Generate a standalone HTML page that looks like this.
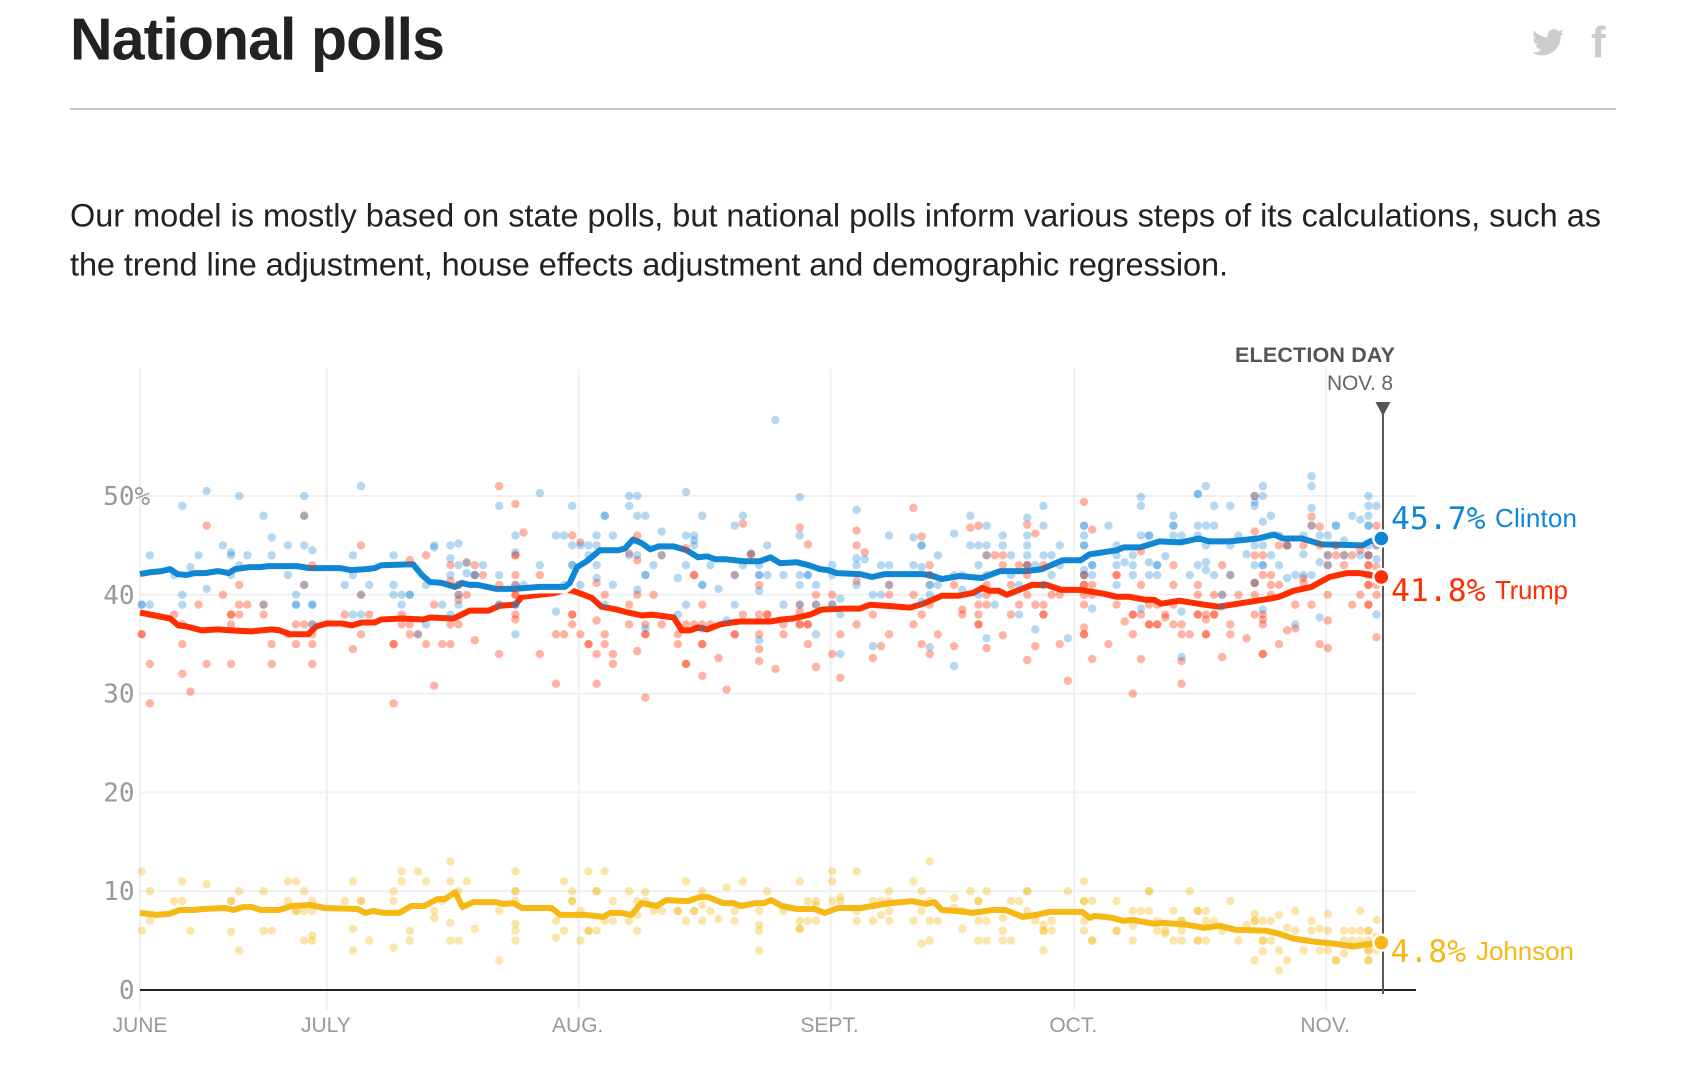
<!DOCTYPE html>
<html lang="en">
<head>
<meta charset="utf-8">
<title>National polls</title>
<style>
html,body{margin:0;padding:0;background:#fff;}
svg{display:block;}
text{font-family:"Liberation Sans",sans-serif;}
.mono{font-family:"DejaVu Sans Mono","Liberation Mono",monospace;}
</style>
</head>
<body>
<svg id="page" xmlns="http://www.w3.org/2000/svg" width="1694" height="1080" viewBox="0 0 1694 1080">
  <text x="70" y="59.5" font-size="59" font-weight="700" fill="#222" textLength="375" lengthAdjust="spacing">National polls</text>
  <path fill="#ccc" transform="translate(1532 26.3) scale(1.333)" d="M23.95 4.57a10 10 0 0 1-2.82.77 4.96 4.96 0 0 0 2.16-2.72c-.95.55-2 .95-3.12 1.18a4.92 4.92 0 0 0-8.38 4.48C7.69 8.1 4.07 6.13 1.64 3.16a4.82 4.82 0 0 0-.67 2.48c0 1.71.87 3.21 2.19 4.1a4.9 4.9 0 0 1-2.23-.62v.06a4.92 4.92 0 0 0 3.95 4.83 4.9 4.9 0 0 1-2.21.08 4.93 4.93 0 0 0 4.6 3.42A9.87 9.87 0 0 1 0 19.54a14 14 0 0 0 7.56 2.21c9.05 0 14-7.5 14-14 0-.21 0-.42-.02-.63a9.94 9.94 0 0 0 2.41-2.55z"/>
  <text x="1591" y="57" font-size="44" font-weight="700" fill="#ccc">f</text>
  <rect x="70" y="108" width="1546" height="2" fill="#ccc"/>
  <text x="70" y="226.5" font-size="32.5" fill="#222" textLength="1531" lengthAdjust="spacing">Our model is mostly based on state polls, but national polls inform various steps of its calculations, such as</text>
  <text x="70" y="275.5" font-size="32.5" fill="#222" textLength="1158" lengthAdjust="spacing">the trend line adjustment, house effects adjustment and demographic regression.</text>
  <g id="chart"></g>
  <text x="1235" y="362" font-size="21.5" font-weight="700" fill="#555" textLength="160" lengthAdjust="spacing">ELECTION DAY</text>
  <text x="1327" y="390" font-size="21" fill="#666" textLength="66" lengthAdjust="spacing">NOV. 8</text>
</svg>
<script>
const yTicks = [0, 10, 20, 30, 40, 50];
const monthNames = ["JUNE", "JULY", "AUG.", "SEPT.", "OCT.", "NOV."];
const monthDays = [0, 23, 54, 85, 115, 146];
const electionDay = 153;
const seriesNames = ["Clinton", "Trump", "Johnson"];
const seriesFinals = [45.7, 41.8, 4.8];

const clintonTrendDays = [0,1.4,2.7,3.7,4.6,5.7,6.8,8,9.6,10.9,11.7,13.5,14.8,15.8,19.3,20.9,24.6,25.9,27.9,28.9,29.7,33.6,34.7,35.7,37.1,38.8,39.6,40.6,41.6,43.9,46,49.2,52.3,52.9,53.8,55,56.6,58.9,59.7,60.7,61.8,62.8,63.8,65.7,67.3,68.7,69.8,70.8,72,74.3,76.3,77.6,78.8,80.8,82.3,83.7,84.7,85.8,88.6,90.1,91.7,96.2,97.2,98.7,100.9,103.6,105.9,109.1,111,113.6,115.8,116.9,120.2,121.1,123.1,125.5,128.1,130.3,131.6,134.1,137.6,139.6,140.7,143,145.5,150.5,151.4,152.8];
const clintonTrendValues = [42.1,42.3,42.4,42.6,42.1,42,42.2,42.2,42.4,42.2,42.6,42.8,42.8,42.9,42.9,42.7,42.7,42.5,42.6,42.7,43,43.1,42,41.3,41.2,40.8,41.2,41,41,40.6,40.6,40.8,40.8,41.2,42.8,43.4,44.5,44.5,44.7,45.6,45.2,44.6,44.9,44.9,44.5,43.8,43.9,43.6,43.6,43.4,43.4,43.8,43.2,43.3,43,42.6,42.5,42.2,42.1,41.8,42.1,42.1,42,41.6,41.9,41.7,42.4,42.4,42.6,43.5,43.5,44.1,44.5,44.8,44.8,45.4,45.3,45.7,45.4,45.4,45.7,46.1,45.7,45.7,45.1,45,45.4,45.7];

const trumpTrendDays = [0,3.7,4.7,5.7,7.6,9.6,11.1,13.7,16.2,17.2,18.5,20.7,21.7,23,24.8,26.1,27.3,28.9,29.7,32.2,34.9,35.7,38.6,40.6,42.9,44.3,46.2,47,50.9,52.3,53.3,55.6,56.8,58.7,60.1,61.8,63,65.7,66.7,67.7,68.7,69.8,71.4,72.8,73.9,77.6,79,80.4,82.5,83.9,86.6,88.6,89.9,94.8,96.4,98.7,100.7,102.6,103.7,104.6,105.7,106.7,109.8,111.6,113.4,115.8,118.7,120.2,121.8,123.7,124.8,125.7,127.9,131,132.8,136.7,139,140.2,142,144.2,146.4,148.6,150.1,151.4,152.8];
const trumpTrendValues = [38.2,37.6,36.9,36.8,36.4,36.5,36.4,36.3,36.5,36.4,36,36,36.8,37.1,37.1,36.9,37.2,37.2,37.5,37.6,37.5,37.7,37.6,38.4,38.4,38.9,39,39.8,40.15,40.5,40.4,39.7,38.8,38.5,38.2,37.9,38,37.7,36.4,36.4,36.7,36.5,37,37.2,37.3,37.3,37.5,37.6,38,38.5,38.6,38.6,39,38.7,39.1,39.9,39.9,40.2,40.7,40.4,40.4,40,41,41,40.5,40.5,40.1,39.8,39.8,39.5,39.5,39.1,39.4,39,38.8,39.3,39.6,39.8,40.4,40.8,41.8,42.2,42.2,42,41.8];

const johnsonTrendDays = [0,2,3.6,4.9,6.7,7.7,10.5,11.5,12.7,13.7,14.9,17.1,18.7,20.9,22.8,26.8,27.7,28.7,30,31.9,33.4,35,36.6,37.5,38.8,39.7,41,43.8,44.7,46,47,50.7,51.7,53.2,54.8,57,57.9,59.2,60.5,61.7,63.6,64.8,67.4,68.9,69.9,71.8,73,74,75.8,76.8,77.7,79,80.9,83,84.3,85.9,88.7,92.4,95,96.8,97.8,98.7,100.6,102.5,105,106.5,108.7,110.3,111.9,116,116.9,117.5,119.7,121,122.2,124.8,125.7,128.9,131,132.9,134.8,138.6,140.2,142,144.5,147,149.3,150.8,152.8];
const johnsonTrendValues = [7.8,7.6,7.7,8.1,8.1,8.2,8.3,8.1,8.4,8.4,8.1,8.1,8.5,8.6,8.3,8.2,7.8,8,7.8,7.8,8.5,8.5,9.2,9.2,9.9,8.4,8.9,8.9,8.7,8.8,8.3,8.3,7.6,7.6,7.6,7.4,7.8,7.8,7.6,8.8,8.5,9.1,9,9.4,9.4,8.8,8.8,8.5,8.8,8.8,9.1,8.5,8.2,8.2,7.8,8.3,8.3,8.8,9,8.7,8.9,8.1,8,7.8,8.1,8.1,7.4,7.6,7.9,7.9,7.3,7.5,7.3,7,7.1,6.7,6.8,6.6,6.3,6.5,6.1,6,5.7,5.2,4.9,4.7,4.4,4.6,4.8];

const clintonPollDays = [0,0,1,1,4,5,5,5,6,7,8,8,10,11,11,11,12,12,13,15,15,16,16,18,18,19,19,19,20,20,20,20,21,21,21,21,25,26,26,26,27,27,27,28,31,31,31,32,32,33,33,34,35,35,36,36,37,38,38,38,38,39,39,39,39,39,40,40,41,41,42,44,44,44,46,46,46,46,46,46,47,49,49,51,51,52,52,53,53,53,53,54,54,55,55,56,56,56,56,
57,57,57,58,58,60,60,60,61,61,61,61,62,62,62,62,63,64,64,66,66,67,67,67,67,68,68,68,69,69,69,69,70,71,72,73,73,73,74,74,75,76,76,76,76,76,77,77,78,79,79,81,81,81,81,81,82,82,83,83,83,85,85,85,86,86,86,88,88,88,88,89,90,90,91,91,92,92,92,95,95,96,96,96,96,97,97,97,97,97,98,98,100,100,100,101,101,102,102,103,103,103,104,104,104,104,104,105,106,106,107,107,108,108,109,109,109,109,109,110,110,111,111,111,111,112,112,113,113,114,
116,116,116,116,116,116,116,117,117,117,117,119,120,120,120,120,121,122,122,122,123,123,123,123,124,124,124,124,125,125,125,126,127,127,127,127,128,128,128,129,130,130,130,130,130,131,131,131,131,131,132,132,132,133,133,134,134,134,135,136,137,137,137,137,137,137,138,138,138,138,138,138,138,139,139,140,140,141,141,142,142,143,143,143,144,144,144,144,144,145,145,145,146,146,146,147,147,147,148,148,149,150,150,151,151,151,151,151,151,151,152,152,152,152];
const clintonPollValues = [39,39,39,44,42,49,40,39,42.8,44,50.5,40.6,45,44.3,44,42,43,50,44,48,39,45.8,44,45,42,40,39,39,50,48,45,41,44.5,39,39,37,41,44,42,38,51,40,38,41,44,41,40,40,39,40,40,36,41,37,45,44.8,39,45,43.7,42,38,45.2,43,41,40,39,43.2,42.2,42,42,43,49,42,39,46,44.3,41,39,39,36,41,50.3,43,46,38.3,46,41,49,45,43,43,45,41,45,44,46,45,43,41.7,
48,48,39,46,41,50,49,44,50,48,44,40.5,48,42,42,36.6,43,46.4,44,41.7,38,50.4,46,43,39,46,45.5,45,48,41,41,36.6,43,40.6,37.4,47,42,39,48,43,44.2,43,42,42,40.4,35.4,45,42,57.7,42,39,49.9,46,42,41,39,42,42,41,39,36,43,42,39,39.6,38,34,48.6,43.7,43,41,43.6,40,34.8,43,40,46,43,41,45.8,43,45,45,42.8,39.3,42,41,41,40,34.7,44,41,46.2,42,32.8,42,40.5,48,45,45,43,40,47,45,44,42,35.6,39,46,45,44,42,41,38,47.8,46,45,44,43,43,36.5,49,47,44,41,44,42,45,43,35.6,
47,47,46,45,45,42.5,42,43,43,42,38.6,47,45,44,43,41,43.3,44,43,42,49.9,49,46,38.6,46,46,43.3,42,43,43,42,43.9,48,47,47,46,46,38.3,33.7,42,50.2,50.2,47,46,43,51,47,45,43.3,42.5,49,47,42,40,38.8,49,45,42,46,44.1,50,49.4,49,45,43,41.2,51,50,47.4,45,43,43,38.5,48,44,46,43,41.7,45,42,37,46,44.1,42,52,51,48.8,47,42,46,43.3,37.7,46,44,43,47,47,45,45.5,44,48,47.6,44,50,49,48,47,47,45,44,49,45,43.6,38];

const trumpPollDays = [0,0,1,1,4,5,5,5,6,7,8,8,10,11,11,11,11,12,12,12,13,15,15,16,16,18,19,19,20,20,20,21,21,21,21,21,25,26,27,27,27,28,31,31,31,32,32,33,33,33,34,35,35,36,36,37,38,38,38,38,39,39,39,39,40,40,41,41,41,42,44,44,44,44,46,46,46,46,46,46,46,46,46,47,49,49,51,51,52,53,53,53,53,54,54,55,55,56,56,56,56,
57,57,57,58,58,60,60,60,61,61,61,61,62,62,62,62,63,64,64,66,66,67,67,67,67,68,68,68,69,69,69,69,69,70,71,72,73,73,73,74,74,75,75,76,76,76,76,76,77,77,78,79,79,81,81,81,81,81,82,82,82,82,83,83,83,85,85,85,86,86,88,88,88,88,89,90,90,91,92,92,92,95,95,95,96,96,96,97,97,97,97,98,100,100,101,101,102,103,103,103,103,103,104,104,104,104,104,105,106,106,106,107,107,108,108,109,109,109,109,109,109,110,110,110,111,111,111,111,111,112,113,113,114,
116,116,116,116,116,116,116,116,116,116,117,117,117,117,119,120,120,120,121,122,122,122,122,123,123,123,123,124,124,124,125,125,125,126,126,127,127,127,127,128,128,128,128,129,130,130,130,130,131,131,131,131,132,132,132,133,133,133,134,134,134,135,136,137,137,137,137,137,137,137,138,138,138,138,138,138,138,139,139,139,140,140,140,141,141,141,142,142,143,143,143,144,144,144,145,145,145,146,146,146,146,146,147,147,148,148,149,149,150,150,151,151,151,151,151,151,151,151,151,152,152,152,152,152,152];
const trumpPollValues = [36,36,33,29,38,37,35,32,30.2,39,47,33,40,38,38,37,33,41,39,38,39,39,38,35,33,36,37,35,48,41,37,43,37,36,35,33,38,34.5,45,40,36,38,35,35,29,38,37,43.5,37,36,36,44,35,39,30.8,35,43,41.4,37,35,41,40,39.5,37,43.3,40,43,42,35.4,42,51,41,39,34,49.2,44,44,42,41,40,40,38,37.5,46.3,42,34,36,31,36,46,38,38,37,45.3,36,35,35,41.2,37.4,34,31,
40,36,35,34,33,44.2,39,37,46,43.5,40,34.3,37,36,36,29.6,40,44,37,36,35,44.7,37,33,33,42,42,37,39,37,35,35,31.8,37,33.6,30.4,42,36,36,47.2,38,44.1,44.1,41,38,36,34.5,33.3,38,38,32.5,37,36,46.8,39,38.3,37,37,45.1,37,37,35,40,39,32.7,40,39,34,36,31.6,46.5,45,41.4,37,44.3,38,33.6,34.8,41,40,36,48.8,40,37,45.9,38,35,43,42,39,34,36,41,34.8,38.5,38,46.8,47,39,38,37,37,44,41,40,39,34.6,44,44,43,35.9,41,38,43,39,47.1,43,43,42,40,33.4,46.2,39,34.8,43,41,39,38,38,40,40,35,31.3,
49.4,42,42,41,41,40,39,36.7,36,36,46.6,41,40,33.5,35,42,42,39,37.3,38,38,36,30,44.4,41,38,33.5,39,37,37,39,37,37,38,37.7,43,41,39,37,37,36,33.3,31,36,41,40,38,38,38,37.5,36,36,40,38,38,43,40,33.7,42,37,36,40,35.6,50,46.4,44,41.2,41.2,40,38,44,42,38,37.5,37,34,34,42,41,40,45,41,35,45,45,36.4,39,36.6,45,41.7,41.2,47.9,47,39,46.9,45,35,44,43,40,37.4,34.6,45,44,44,43,44,39,44.5,40,44,44,43,43,42,41,41,39,39,47,45,42.8,41,40,35.7];

const johnsonPollDays = [0,0,1,1,4,5,5,6,8,11,11,11,12,12,15,15,16,18,18,19,19,19,20,20,20,21,21,21,21,25,26,26,26,27,27,28,31,31,31,32,32,33,33,34,35,36,36,37,38,38,38,38,39,39,40,41,44,44,46,46,46,46,46,46,46,51,51,52,52,53,53,53,54,54,55,55,55,56,56,56,57,57,58,58,60,60,61,61,61,62,62,63,64,66,66,67,67,68,68,69,69,69,70,71,72,73,73,74,76,76,76,76,77,79,81,81,81,81,82,82,83,83,83,85,85,85,86,86,88,88,88,90,90,
91,91,92,92,92,92,95,95,96,96,96,97,97,97,97,98,100,100,101,101,102,103,103,103,103,104,104,104,106,106,106,107,107,108,109,109,109,110,111,111,111,111,112,112,114,116,116,116,116,116,117,117,117,120,120,120,122,122,122,123,124,124,124,125,125,126,126,127,127,128,128,128,128,129,130,130,130,130,131,131,131,132,133,134,135,136,137,137,137,137,138,138,138,138,139,139,140,140,140,141,141,142,142,143,144,144,145,145,146,146,146,147,147,148,148,148,149,149,150,150,150,151,151,151,151,151,151,151,152,152,152];
const johnsonPollValues = [12,6,10,7,9,9,11,6,10.7,9,9,5.9,10,4,10,6,6,11,9,11,8,8,10,8,5,9,8,5.5,5,9,11,6.2,4,9,9,5,10,9,4.3,12,11,6,5,12,11,8,7.3,9,13,11,6.8,5,10,5,11,6.2,8,3,12,10,10,9,6.7,6,5,7,5.3,11,6,10,9,9,8,5,12,6,6,10,10,6,12,7,9,7,10,7,9,7.6,6,9.9,9,8,8,8,8,11,7,8,8,10,8.6,7,8,7.2,10.4,8,7,11,8,6.6,6,4,10,8,11,7,6.2,6.2,9,7,9,8.6,7,12,11,9,9.4,9,12,8,7,9,7,
9,7.6,10,9,8,7,11,7,10,8,4.7,13,9,7,5,7,9.3,8.3,8,6.2,10,9,9,7,5,10,7,5,7.3,6,5,9,5,9,10,10,8,7,6.6,6,6,4,7,6,10,11,9,9,7,6,9,5,5,9,6,6,8,6.5,5,8,10,10,8,7,6,6,5.7,8,5,7,7,6,5,10,8,8,5,5,8,7,5,7,6,9,5,6.6,7.7,7,7,3,7,5,5,3.9,7,5,7.6,4,2,6.3,3,8,6,4,7,6,6.2,4,7.7,6,4,3,3,6,5,3.7,6,5,8,6,5,6,6,5,4,4,3,3,7.1,5.4,4];

const NS = "http://www.w3.org/2000/svg";
const chart = document.getElementById("chart");
const BLUE = "#0f87d4", RED = "#ff2d00", GOLD = "#f5b814";

function xScale(day) { return 140 + day * 8.124; }
function yScale(value) { return 990 - value * 9.88; }
function xPoll(day) { return xScale(day) + 1.7; }

function make(tag, attrs, text) {
  const el = document.createElementNS(NS, tag);
  for (const k in attrs) el.setAttribute(k, attrs[k]);
  if (text !== undefined) el.textContent = text;
  chart.appendChild(el);
  return el;
}
function trendPath(days, values) {
  return days.map((d, i) => (i ? "L" : "M") + xScale(d).toFixed(1) + " " + yScale(values[i]).toFixed(1)).join("");
}

yTicks.forEach(function (tick) {
  if (tick === 0) return;
  const el = make("line", {x1: xScale(0), x2: 1416, y1: yScale(tick), y2: yScale(tick), stroke: "#f0f0f0", "stroke-width": 2});
  
  
});
monthDays.forEach(function (day) {
  const el = make("line", {x1: xScale(day), x2: xScale(day), y1: 369, y2: 1010, stroke: "#f0f0f0", "stroke-width": 2});
  
  
});
yTicks.forEach(function (tick, i) {
  const label = tick === 50 ? tick + "%" : String(tick);
  const el = make("text", {x: 134.5 - String(tick).length * 15.65, y: yScale(tick) + 9, "font-size": 26, fill: "#999", class: "mono"}, label);
  
  
});
monthNames.forEach(function (name, i) {
  const el = make("text", {x: xScale(monthDays[i]) - (i ? 1 : 0), y: 1032, "font-size": 21, fill: "#999", "text-anchor": "middle"}, name);
  
  
});

const trumpLine = make("path", {d: trendPath(trumpTrendDays, trumpTrendValues), fill: "none", stroke: RED, "stroke-width": 6, "stroke-linejoin": "round"});


const johnsonLine = make("path", {d: trendPath(johnsonTrendDays, johnsonTrendValues), fill: "none", stroke: GOLD, "stroke-width": 6, "stroke-linejoin": "round"});


const clintonCasing = make("path", {d: trendPath(clintonTrendDays, clintonTrendValues), fill: "none", stroke: "#fff", "stroke-width": 13, "stroke-linejoin": "round"});


const clintonLine = make("path", {d: trendPath(clintonTrendDays, clintonTrendValues), fill: "none", stroke: BLUE, "stroke-width": 6, "stroke-linejoin": "round"});



johnsonPollDays.forEach(function (day, i) {
  const el = make("circle", {cx: xPoll(day), cy: yScale(johnsonPollValues[i]), r: 4.2, fill: GOLD, "fill-opacity": 0.36});
  
  
});
trumpPollDays.forEach(function (day, i) {
  const el = make("circle", {cx: xPoll(day), cy: yScale(trumpPollValues[i]), r: 4.2, fill: "#ff2d00", "fill-opacity": 0.36});
  
  
});
clintonPollDays.forEach(function (day, i) {
  const el = make("circle", {cx: xPoll(day), cy: yScale(clintonPollValues[i]), r: 4.2, fill: "#1a86d8", "fill-opacity": 0.33});
  
  
});

const zeroAxis = make("line", {x1: xScale(0), x2: 1416, y1: yScale(0), y2: yScale(0), stroke: "#222", "stroke-width": 2});


const electionLine = make("line", {x1: xScale(electionDay), x2: xScale(electionDay), y1: 405, y2: 994, stroke: "#555", "stroke-width": 2});


const electionArrow = make("polygon", {points: [xScale(electionDay) - 7.5, 402, xScale(electionDay) + 7.5, 402, xScale(electionDay), 416].join(" "), fill: "#555"});



const colors = [BLUE, RED, GOLD];
const numberOffsets = [-9.5, 24, 19.5];
const numberX = [1391, 1391, 1390.5];
const nameX = [1495, 1495, 1476];
const nameWidths = [82, 73, 98];
seriesNames.forEach(function (name, i) {
  const finalY = yScale(seriesFinals[i]);
  const dot = make("circle", {cx: xScale(152.8), cy: finalY, r: 8, fill: colors[i], stroke: "#fff", "stroke-width": 2.5});
  
  
  const value = make("text", {x: numberX[i], y: finalY + numberOffsets[i], "font-size": 31.4, fill: colors[i], class: "mono"}, seriesFinals[i].toFixed(1) + "%");
  
  
  const label = make("text", {x: nameX[i], y: finalY + numberOffsets[i] - 2, "font-size": 26, fill: colors[i], textLength: nameWidths[i], lengthAdjust: "spacing"}, name);
  
  
});
</script>
</body>
</html>
